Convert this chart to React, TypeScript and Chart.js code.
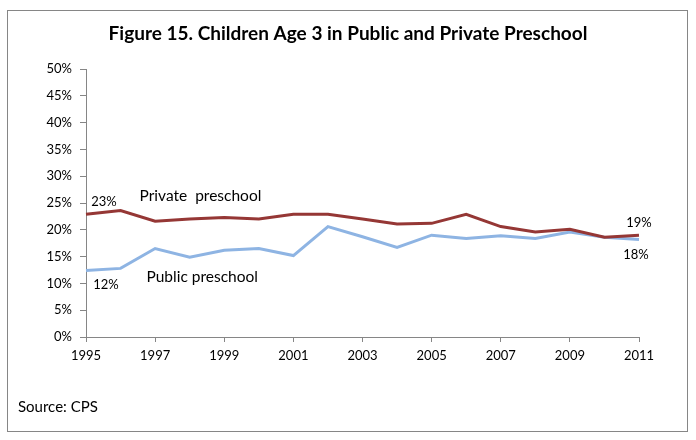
import React, { useEffect, useRef } from "react";
import { Chart, registerables } from "chart.js";

Chart.register(...registerables);

const years = [1995, 1996, 1997, 1998, 1999, 2000, 2001, 2002, 2003, 2004, 2005, 2006, 2007, 2008, 2009, 2010, 2011];
const privateValues = [22.9, 23.6, 21.6, 22.0, 22.3, 22.0, 22.9, 22.9, 22.0, 21.1, 21.2, 22.9, 20.6, 19.6, 20.1, 18.6, 19.0];
const publicValues = [12.4, 12.8, 16.5, 14.9, 16.2, 16.5, 15.2, 20.6, 18.7, 16.7, 19.0, 18.4, 18.9, 18.4, 19.6, 18.6, 18.2];
const yTicks = [0, 5, 10, 15, 20, 25, 30, 35, 40, 45, 50];
const xTicks = [1995, 1997, 1999, 2001, 2003, 2005, 2007, 2009, 2011];
const titleText = "Figure 15. Children Age 3 in Public and Private Preschool";
const sourceText = "Source: CPS";
const privateName = "Private  preschool";
const publicName = "Public preschool";

const FONT = "Lato, 'Open Sans', sans-serif";
const GRAY = "#868686";

const decorPlugin = {
  id: "decor",
  beforeDraw(chart: any) {
    const ctx = chart.ctx;
    ctx.save();
    ctx.fillStyle = "#ffffff";
    ctx.fillRect(0, 0, chart.width, chart.height);
    ctx.strokeStyle = GRAY;
    ctx.lineWidth = 1;
    ctx.strokeRect(7.5, 10.5, 680, 421);
    ctx.restore();
  },
  afterDraw(chart: any) {
    const ctx = chart.ctx;
    const xs = chart.scales.x;
    const ys = chart.scales.y;
    ctx.save();
    ctx.fillStyle = "#000000";
    ctx.textBaseline = "middle";
    ctx.textAlign = "center";
    ctx.font = `bold 19px ${FONT}`;
    ctx.fillText(titleText, 348, 34);

    ctx.textAlign = "left";
    ctx.font = `15px ${FONT}`;
    ctx.fillText(sourceText, 18, 407);

    ctx.font = `15.5px ${FONT}`;
    ctx.fillText(privateName, xs.getPixelForValue(1996.55), ys.getPixelForValue(26.3));
    ctx.fillText(publicName, xs.getPixelForValue(1996.75), ys.getPixelForValue(11.2));

    ctx.textAlign = "center";
    ctx.font = `13px ${FONT}`;
    const n = years.length - 1;
    const lbl = (v: number) => `${Math.round(v)}%`;
    ctx.fillText(lbl(privateValues[0]), xs.getPixelForValue(years[0]) + 18, ys.getPixelForValue(privateValues[0]) - 12);
    ctx.fillText(lbl(publicValues[0]), xs.getPixelForValue(years[0]) + 20, ys.getPixelForValue(publicValues[0]) + 14);
    ctx.fillText(lbl(privateValues[n]), xs.getPixelForValue(years[n]), ys.getPixelForValue(privateValues[n]) - 12);
    ctx.fillText(lbl(publicValues[n]), xs.getPixelForValue(years[n]) - 3, ys.getPixelForValue(publicValues[n]) + 15);
    ctx.restore();
  },
};

export default function App() {
  const ref = useRef<HTMLCanvasElement>(null);
  useEffect(() => {
    if (!ref.current) return;
    const chart = new Chart(ref.current, {
      type: "line",
      data: {
        datasets: [
          {
            label: privateName,
            data: years.map((y, i) => ({ x: y, y: privateValues[i] })),
            borderColor: "#953735",
            borderWidth: 3,
            pointRadius: 0,
            tension: 0,
            clip: false as any,
          },
          {
            label: publicName,
            data: years.map((y, i) => ({ x: y, y: publicValues[i] })),
            borderColor: "#8EB4E3",
            borderWidth: 3,
            pointRadius: 0,
            tension: 0,
            clip: false as any,
          },
        ],
      },
      options: {
        animation: false,
        responsive: false,
        devicePixelRatio: 1,
        layout: { padding: { left: 0, top: 69, right: 57, bottom: 73 } },
        plugins: { legend: { display: false }, tooltip: { enabled: false }, title: { display: false } },
        scales: {
          x: {
            type: "linear",
            min: 1995,
            max: 2011,
            afterBuildTicks: (axis: any) => {
              axis.ticks = xTicks.map((v) => ({ value: v }));
            },
            afterFit: (axis: any) => {
              axis.height = 30;
            },
            ticks: {
              color: "#000000",
              font: { family: FONT, size: 13 },
              padding: 6,
              maxRotation: 0,
              autoSkip: false,
              callback: (v: any) => String(v),
            },
            grid: { drawOnChartArea: false, drawTicks: true, tickLength: 5, color: GRAY },
            border: { color: GRAY, width: 1 },
          },
          y: {
            min: 0,
            max: 50,
            afterBuildTicks: (axis: any) => {
              axis.ticks = yTicks.map((v) => ({ value: v }));
            },
            afterFit: (axis: any) => {
              axis.width = 86;
            },
            ticks: {
              color: "#000000",
              font: { family: FONT, size: 13 },
              padding: 8,
              callback: (v: any) => `${v}%`,
            },
            grid: { drawOnChartArea: false, drawTicks: true, tickLength: 6, color: GRAY },
            border: { color: GRAY, width: 1 },
          },
        },
      },
      plugins: [decorPlugin],
    });
    return () => chart.destroy();
  }, []);
  return (
    <div style={{ position: "fixed", left: 0, top: 0, width: 696, height: 440, background: "#fff" }}>
      <canvas ref={ref} width={696} height={440} style={{ display: "block", width: 696, height: 440 }} />
    </div>
  );
}
